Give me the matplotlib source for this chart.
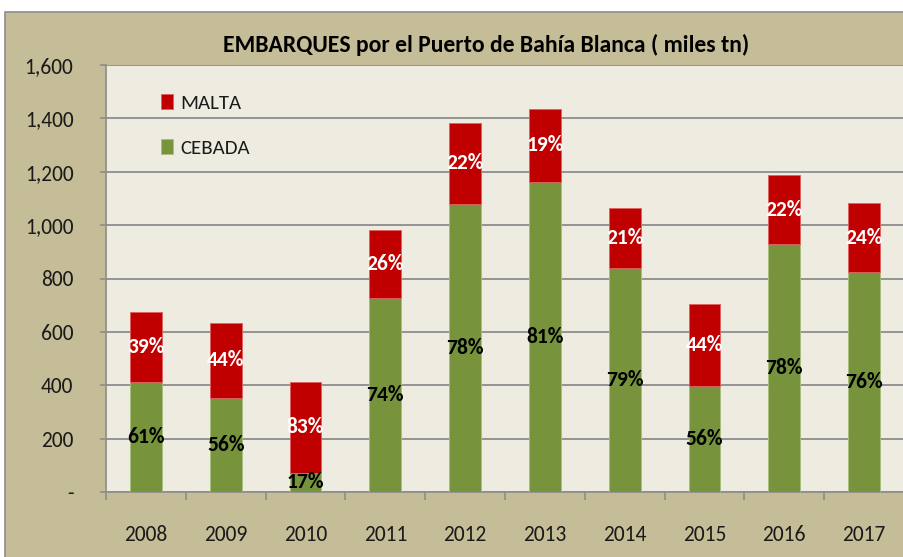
import matplotlib.pyplot as plt
from matplotlib.patches import Rectangle
import numpy as np

plt.rcParams['font.family'] = ['Carlito', 'DejaVu Sans']

years = ['2008', '2009', '2010', '2011', '2012', '2013', '2014', '2015', '2016', '2017']
cebada = [411, 354, 72, 727, 1080, 1163, 840, 396, 928, 824]
malta = [263, 279, 340, 254, 302, 274, 224, 307, 259, 259]
pct_cebada = ['61%', '56%', '17%', '74%', '78%', '81%', '79%', '56%', '78%', '76%']
pct_malta = ['39%', '44%', '83%', '26%', '22%', '19%', '21%', '44%', '22%', '24%']

fig = plt.figure(figsize=(9.04, 5.57), dpi=100)
fig.patch.set_facecolor('white')
# tan chart area
fig.add_artist(Rectangle((5 / 904, -0.01), 1, (557 - 12) / 557 + 0.01, transform=fig.transFigure,
                         facecolor='#C4BD97', edgecolor='#8c8c8c', lw=1.2, zorder=-10))

ax = fig.add_axes([106 / 904, 65 / 557, 1 - 106 / 904, 427 / 557])
ax.set_facecolor('#EEEBE0')

x = np.arange(len(years))
green = '#77933C'
red = '#C00000'
ax.bar(x, cebada, width=0.4, color=green, edgecolor='#a8bf7a', lw=0.6, label='CEBADA', zorder=3)
ax.bar(x, malta, width=0.4, bottom=cebada, color=red, edgecolor='#e06060', lw=0.6, label='MALTA', zorder=3)

for i in range(len(years)):
    ax.text(x[i], cebada[i] / 2, pct_cebada[i], ha='center', va='center',
            fontsize=15.5, fontweight='bold', color='black', zorder=4)
    ax.text(x[i], cebada[i] + malta[i] / 2, pct_malta[i], ha='center', va='center',
            fontsize=15.5, fontweight='bold', color='white', zorder=4)

ax.set_xlim(-0.5, len(years) - 0.5)
ax.set_ylim(0, 1600)
ax.set_yticks(range(0, 1601, 200))
ax.set_yticklabels(['-'] + ['{:,}'.format(v) for v in range(200, 1601, 200)], fontsize=15.5)
ax.yaxis.grid(True, color='#8c8c8c', lw=1.3, zorder=1)
ax.set_xticks(x)
ax.set_xticklabels(years, fontsize=15.5)
ax.set_xticks(np.arange(-0.5, len(years), 1), minor=True)
ax.tick_params(axis='x', which='major', length=0, pad=24, labelcolor='#1a1a1a')
ax.tick_params(axis='x', which='minor', length=6, color='#8c8c8c', width=1.2)
ax.tick_params(axis='y', length=4.5, color='#8c8c8c', width=1.2, pad=19, labelcolor='#1a1a1a')
for s in ['top', 'right']:
    ax.spines[s].set_visible(False)
ax.spines['left'].set_color('#8c8c8c')
ax.spines['bottom'].set_color('#8c8c8c')
ax.spines['left'].set_linewidth(1.2)
ax.spines['bottom'].set_linewidth(1.2)

h, l = ax.get_legend_handles_labels()
leg = ax.legend(h[::-1], l[::-1], loc='upper left', bbox_to_anchor=(0.046, 0.975), frameon=False,
                fontsize=15, handlelength=0.55, handleheight=0.7, labelspacing=1.3, handletextpad=0.35)
for t in leg.get_texts():
    t.set_color('#1a1a1a')

fig.text(486 / 904, 1 - 45 / 557, 'EMBARQUES por el Puerto de Bahía Blanca ( miles tn)',
         ha='center', va='center', fontsize=17, fontweight='bold')

fig.savefig('out.png', dpi=100)
